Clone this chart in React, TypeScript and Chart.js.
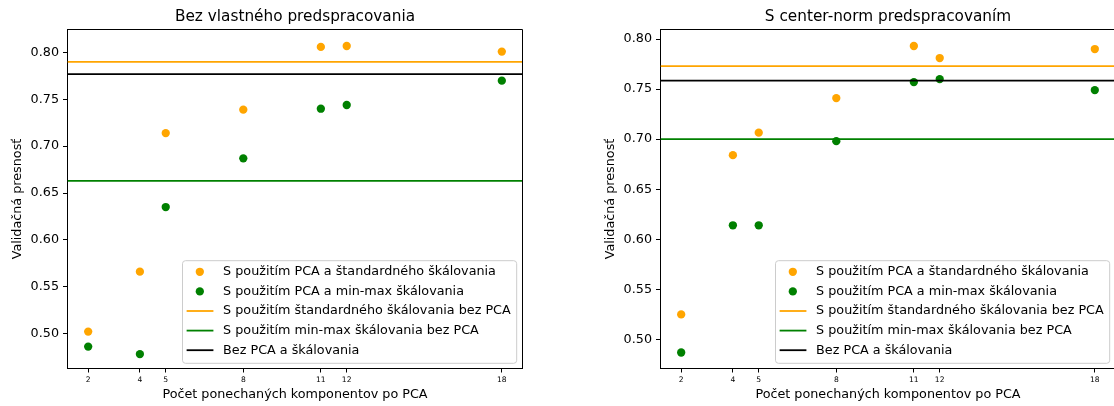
import React, { useEffect, useRef } from "react";
import { Chart, registerables } from "chart.js";

Chart.register(...registerables);

// ---------- data ----------
const components = [2, 4, 5, 8, 11, 12, 18];
const yTickValues = [0.5, 0.55, 0.6, 0.65, 0.7, 0.75, 0.8];
const xRange = [1.2, 18.8];

const titleLeft = "Bez vlastného predspracovania";
const titleRight = "S center-norm predspracovaním";
const xAxisTitle = "Počet ponechaných komponentov po PCA";
const yAxisTitle = "Validačná presnosť";

const labelPcaStd = "S použitím PCA a štandardného škálovania";
const labelPcaMinMax = "S použitím PCA a min-max škálovania";
const labelStdNoPca = "S použitím štandardného škálovania bez PCA";
const labelMinMaxNoPca = "S použitím min-max škálovania bez PCA";
const labelNoPcaNoScale = "Bez PCA a škálovania";

// left panel: no own preprocessing
const leftPcaStd = [0.502, 0.566, 0.714, 0.739, 0.806, 0.807, 0.801];
const leftPcaMinMax = [0.486, 0.478, 0.635, 0.687, 0.74, 0.744, 0.77];
const leftStdNoPca = 0.79;
const leftMinMaxNoPca = 0.663;
const leftNoPcaNoScale = 0.777;
const leftYRange = [0.4626, 0.8246];

// right panel: center-norm preprocessing
const rightPcaStd = [0.525, 0.684, 0.7065, 0.741, 0.793, 0.781, 0.79];
const rightPcaMinMax = [0.487, 0.614, 0.614, 0.698, 0.757, 0.76, 0.749];
const rightStdNoPca = 0.773;
const rightMinMaxNoPca = 0.7;
const rightNoPcaNoScale = 0.7585;
const rightYRange = [0.471, 0.8095];

// ---------- styles ----------
const FONT = "'DejaVu Sans', sans-serif";
const ORANGE = "#FFA500";
const GREEN = "#008000";
const BLACK = "#000000";
const CANVAS_W = 557;
const CANVAS_H = 406;
const BASE_FONT = 12.75;

function alignPx(v: number) {
  return Math.round(v - 0.5) + 0.5;
}

const frameLegendPlugin = {
  id: "frameLegend",
  afterDatasetsDraw(chart: any) {
    const { ctx, chartArea: a } = chart;
    ctx.save();
    // top + right spines
    ctx.strokeStyle = BLACK;
    ctx.lineWidth = 1;
    const l = alignPx(a.left);
    const r = alignPx(a.right);
    const t = alignPx(a.top);
    const b = alignPx(a.bottom);
    ctx.beginPath();
    ctx.moveTo(l, t);
    ctx.lineTo(r, t);
    ctx.lineTo(r, b);
    ctx.stroke();

    // legend
    ctx.font = `${BASE_FONT}px ${FONT}`;
    const ds = chart.data.datasets;
    const textW = Math.max(...ds.map((d: any) => ctx.measureText(d.label).width));
    const w = 40.6 + textW + 6;
    const h = 102.6;
    const x0 = a.right - 5.8 - w;
    const y0 = a.bottom - 5.2 - h;
    const rad = 3;
    ctx.beginPath();
    ctx.moveTo(x0 + rad, y0);
    ctx.lineTo(x0 + w - rad, y0);
    ctx.quadraticCurveTo(x0 + w, y0, x0 + w, y0 + rad);
    ctx.lineTo(x0 + w, y0 + h - rad);
    ctx.quadraticCurveTo(x0 + w, y0 + h, x0 + w - rad, y0 + h);
    ctx.lineTo(x0 + rad, y0 + h);
    ctx.quadraticCurveTo(x0, y0 + h, x0, y0 + h - rad);
    ctx.lineTo(x0, y0 + rad);
    ctx.quadraticCurveTo(x0, y0, x0 + rad, y0);
    ctx.closePath();
    ctx.fillStyle = "rgba(255,255,255,0.8)";
    ctx.fill();
    ctx.strokeStyle = "#cccccc";
    ctx.lineWidth = 1;
    ctx.stroke();

    ds.forEach((d: any, i: number) => {
      const cy = y0 + 11.1 + i * 19.6;
      if (d.showLine) {
        ctx.strokeStyle = d.borderColor;
        ctx.lineWidth = 1.8;
        ctx.beginPath();
        ctx.moveTo(x0 + 4.1, cy);
        ctx.lineTo(x0 + 30.9, cy);
        ctx.stroke();
      } else {
        ctx.fillStyle = d.backgroundColor;
        ctx.beginPath();
        ctx.arc(x0 + 17.3, cy, 4.15, 0, Math.PI * 2);
        ctx.fill();
      }
      ctx.fillStyle = BLACK;
      ctx.textBaseline = "middle";
      ctx.textAlign = "left";
      ctx.fillText(d.label, x0 + 40.6, cy);
    });
    ctx.restore();
  },
};

type PanelProps = {
  title: string;
  pcaStd: number[];
  pcaMinMax: number[];
  stdNoPca: number;
  minMaxNoPca: number;
  noPcaNoScale: number;
  yRange: number[];
  left: number;
};

function hLine(label: string, value: number, color: string) {
  return {
    label,
    data: [
      { x: xRange[0], y: value },
      { x: xRange[1], y: value },
    ],
    showLine: true,
    borderColor: color,
    backgroundColor: color,
    borderWidth: 1.8,
    pointRadius: 0,
    order: 0,
  };
}

function scatterSet(label: string, values: number[], color: string) {
  return {
    label,
    data: components.map((c, i) => ({ x: c, y: values[i] })),
    showLine: false,
    backgroundColor: color,
    borderColor: color,
    pointRadius: 4.15,
    pointBorderWidth: 0,
    order: 1,
  };
}

function Panel(p: PanelProps) {
  const ref = useRef<HTMLCanvasElement>(null);
  useEffect(() => {
    if (!ref.current) return;
    const chart = new Chart(ref.current, {
      type: "scatter",
      data: {
        datasets: [
          scatterSet(labelPcaStd, p.pcaStd, ORANGE),
          scatterSet(labelPcaMinMax, p.pcaMinMax, GREEN),
          hLine(labelStdNoPca, p.stdNoPca, ORANGE),
          hLine(labelMinMaxNoPca, p.minMaxNoPca, GREEN),
          hLine(labelNoPcaNoScale, p.noPcaNoScale, BLACK),
        ] as any,
      },
      options: {
        animation: false,
        responsive: false,
        devicePixelRatio: 1,
        layout: { padding: { left: 0, right: CANVAS_W - 522.5, top: 0, bottom: 0 } },
        plugins: {
          legend: { display: false },
          tooltip: { enabled: false },
          title: {
            display: true,
            text: p.title,
            fullSize: false,
            color: BLACK,
            font: { family: FONT, size: 15.3, weight: "normal" },
            padding: { top: 7.8, bottom: 3.34 },
          },
        },
        scales: {
          x: {
            type: "linear",
            min: xRange[0],
            max: xRange[1],
            afterBuildTicks: (scale: any) => {
              scale.ticks = components.map((v) => ({ value: v }));
            },
            afterFit: (scale: any) => {
              scale.height = 37.5;
            },
            ticks: {
              autoSkip: false,
              maxRotation: 0,
              minRotation: 0,
              color: BLACK,
              padding: 3.3,
              font: { family: FONT, size: 7.6 },
              callback: (v: any) => String(v),
            },
            grid: {
              display: true,
              drawOnChartArea: false,
              drawTicks: true,
              tickLength: 4,
              tickColor: BLACK,
              color: BLACK,
            },
            border: { display: true, color: BLACK, width: 1 },
            title: {
              display: true,
              text: xAxisTitle,
              color: BLACK,
              font: { family: FONT, size: BASE_FONT },
              padding: { top: 0, bottom: 3.8 },
            },
          },
          y: {
            type: "linear",
            min: p.yRange[0],
            max: p.yRange[1],
            afterBuildTicks: (scale: any) => {
              scale.ticks = yTickValues.map((v) => ({ value: v }));
            },
            afterFit: (scale: any) => {
              scale.width = 67.5;
            },
            ticks: {
              color: BLACK,
              padding: 4,
              font: { family: FONT, size: BASE_FONT },
              callback: (v: any) => Number(v).toFixed(2),
            },
            grid: {
              display: true,
              drawOnChartArea: false,
              drawTicks: true,
              tickLength: 4.5,
              tickColor: BLACK,
              color: BLACK,
            },
            border: { display: true, color: BLACK, width: 1 },
            title: {
              display: true,
              text: yAxisTitle,
              color: BLACK,
              font: { family: FONT, size: BASE_FONT },
              padding: { top: 10.3, bottom: 0 },
            },
          },
        },
      } as any,
      plugins: [frameLegendPlugin],
    });
    return () => chart.destroy();
  }, []);
  return (
    <div style={{ position: "absolute", left: p.left, top: 0, width: CANVAS_W, height: CANVAS_H }}>
      <canvas ref={ref} width={CANVAS_W} height={CANVAS_H} style={{ width: CANVAS_W, height: CANVAS_H, display: "block" }} />
    </div>
  );
}

export default function App() {
  return (
    <div
      style={{
        position: "absolute",
        left: 0,
        top: 0,
        width: 1114,
        height: 406,
        overflow: "hidden",
        background: "#ffffff",
      }}
    >
      <Panel
        title={titleLeft}
        pcaStd={leftPcaStd}
        pcaMinMax={leftPcaMinMax}
        stdNoPca={leftStdNoPca}
        minMaxNoPca={leftMinMaxNoPca}
        noPcaNoScale={leftNoPcaNoScale}
        yRange={leftYRange}
        left={0}
      />
      <Panel
        title={titleRight}
        pcaStd={rightPcaStd}
        pcaMinMax={rightPcaMinMax}
        stdNoPca={rightStdNoPca}
        minMaxNoPca={rightMinMaxNoPca}
        noPcaNoScale={rightNoPcaNoScale}
        yRange={rightYRange}
        left={593}
      />
    </div>
  );
}
